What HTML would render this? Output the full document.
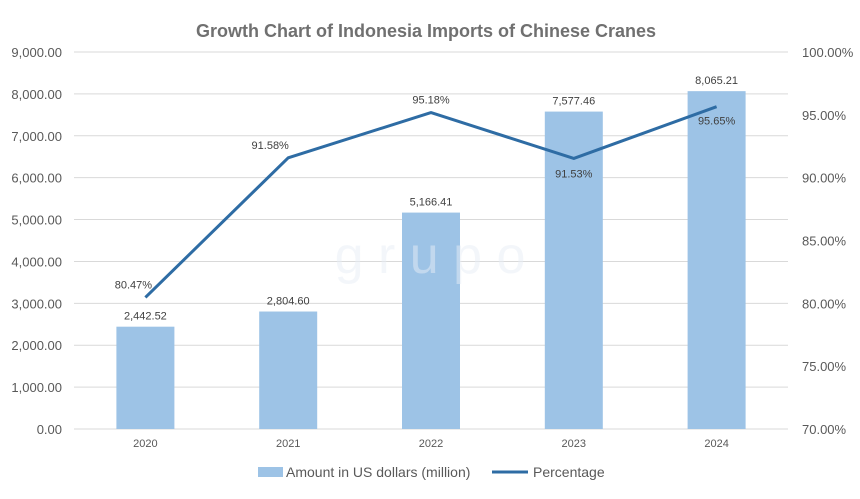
<!DOCTYPE html>
<html><head><meta charset="utf-8"><style>
body{margin:0;background:#fff;}
svg text{font-family:"Liberation Sans",sans-serif;}
</style></head><body>
<svg width="860" height="494" viewBox="0 0 860 494">
<text x="426" y="37" text-anchor="middle" font-size="18" font-weight="bold" fill="#707070">Growth Chart of Indonesia Imports of Chinese Cranes</text>
<g id="grid"></g><g id="bars"></g><g id="line"></g><g id="labels"></g>
<text x="430" y="273" text-anchor="middle" font-size="52" fill="#e8eef6" opacity="0.5">g r  u p   o</text>
<g>
<rect x="258" y="467" width="25" height="10" fill="#9dc3e6"/>
<text x="286" y="477" font-size="14" fill="#595959">Amount in US dollars (million)</text>
<line x1="492" y1="472" x2="528" y2="472" stroke="#2e6ca4" stroke-width="3"/>
<text x="533" y="477" font-size="14" fill="#595959">Percentage</text>
</g>
</svg>
<script>
const categories=["2020","2021","2022","2023","2024"];
const amounts=[2442.52,2804.60,5166.41,7577.46,8065.21];
const amountLabels=["2,442.52","2,804.60","5,166.41","7,577.46","8,065.21"];
const percents=[80.47,91.58,95.18,91.53,95.65];
const leftTicks=["0.00","1,000.00","2,000.00","3,000.00","4,000.00","5,000.00","6,000.00","7,000.00","8,000.00","9,000.00"];
const rightTicks=["70.00%","75.00%","80.00%","85.00%","90.00%","95.00%","100.00%"];
const NS="http://www.w3.org/2000/svg";
const x0=74,x1=788,yB=429,yT=52;
const yL=v=>yB-(v/9000)*(yB-yT);
const yR=p=>yB-((p-70)/30)*(yB-yT);
const step=(x1-x0)/categories.length;
const xc=i=>x0+step*(i+0.5);
function mk(tag,attrs,parent){const e=document.createElementNS(NS,tag);for(const k in attrs)e.setAttribute(k,attrs[k]);document.getElementById(parent).appendChild(e);return e;}
leftTicks.forEach((t,i)=>{const y=yL(i*1000);
 const g=mk("line",{x1:x0,x2:x1,y1:y,y2:y,stroke:"#d9d9d9","stroke-width":1},"grid");
 
 
 const tx=mk("text",{x:62,y:y+5,"text-anchor":"end","font-size":13,fill:"#595959"},"grid");tx.textContent=t;
 
 });
rightTicks.forEach((t,i)=>{const y=yR(70+i*5);
 const tx=mk("text",{x:802,y:y+5,"font-size":13,fill:"#595959"},"grid");tx.textContent=t;
 
 });
categories.forEach((c,i)=>{
 const tx=mk("text",{x:xc(i),y:447,"text-anchor":"middle","font-size":11,fill:"#595959"},"grid");tx.textContent=c;
 
 
 const y=yL(amounts[i]);
 const b=mk("rect",{x:xc(i)-29,y:y,width:58,height:yB-y,fill:"#9dc3e6"},"bars");
 
 
 const l=mk("text",{x:xc(i),y:y-7,"text-anchor":"middle","font-size":11,fill:"#404040"},"labels");l.textContent=amountLabels[i];
 
 });
const pts=percents.map((p,i)=>xc(i)+","+yR(p)).join(" ");
const pl=mk("polyline",{points:pts,fill:"none",stroke:"#2e6ca4","stroke-width":3,"stroke-linejoin":"round"},"line");


const offs=[[-12,-9],[-18,-9],[0,-9],[0,19],[0,18]];
percents.forEach((p,i)=>{const l=mk("text",{x:xc(i)+offs[i][0],y:yR(p)+offs[i][1],"text-anchor":"middle","font-size":11,fill:"#404040"},"labels");l.textContent=p.toFixed(2)+"%";
 
 });
</script>
</body></html>
